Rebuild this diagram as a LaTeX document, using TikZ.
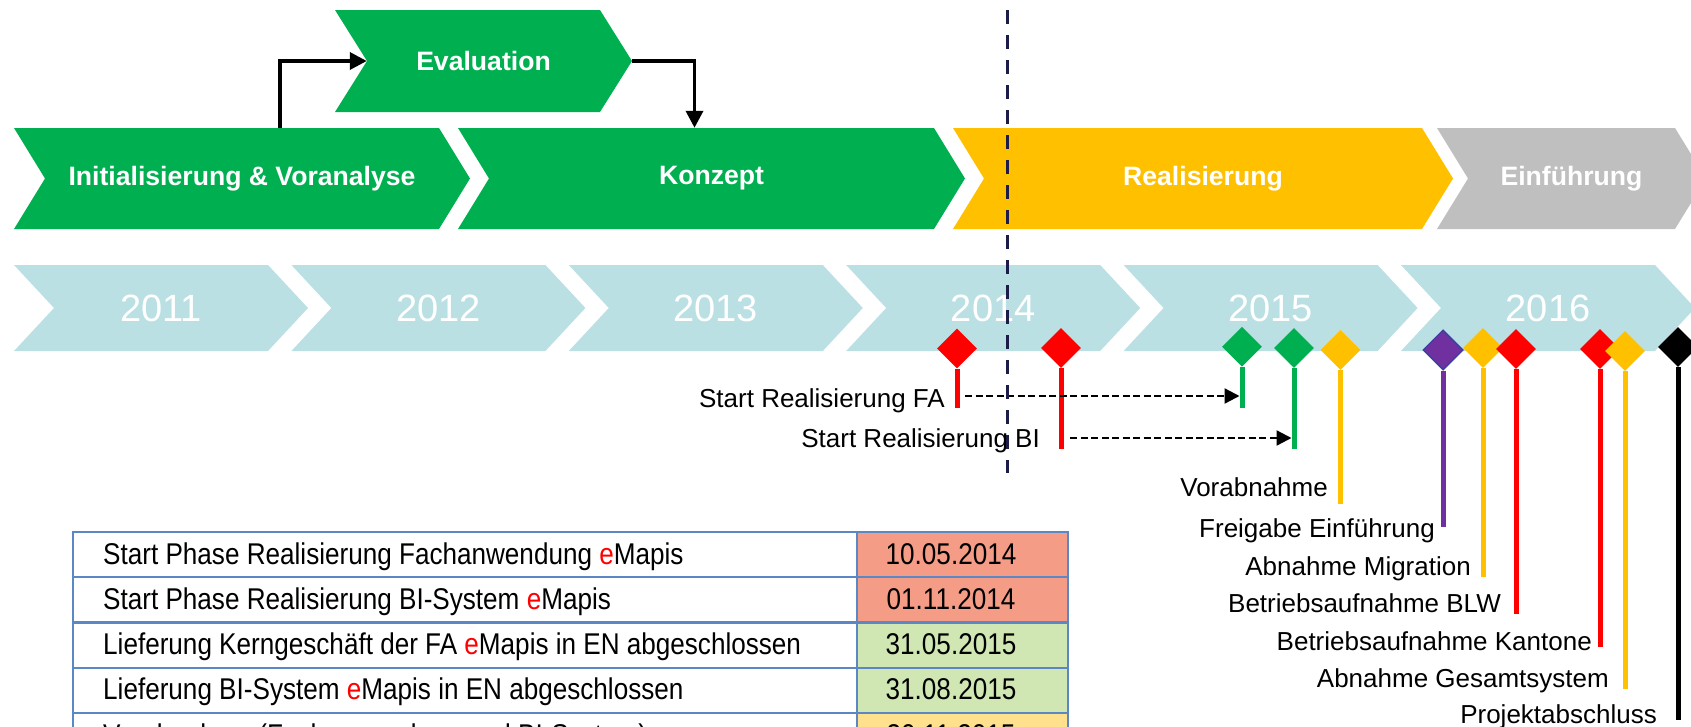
\documentclass[tikz,border=0pt]{standalone}
\usepackage{fontspec}
\setmainfont{Liberation Sans}
\newfontfamily\narrowfont[FakeStretch=0.87]{Liberation Sans}
\usetikzlibrary{arrows.meta,shapes.geometric,calc,positioning}

\definecolor{phgreen}{HTML}{00B050}
\definecolor{phgold}{HTML}{FFC000}
\definecolor{phgrey}{HTML}{BFBFBF}
\definecolor{yrblue}{HTML}{BBE0E3}
\definecolor{mspurple}{HTML}{7030A0}
\definecolor{msborder}{HTML}{3F3F9F}
\definecolor{cutnavy}{HTML}{1C1C48}
\definecolor{tabline}{HTML}{5B87C5}
\definecolor{cellred}{HTML}{F59C86}
\definecolor{cellgreen}{HTML}{D0E7B4}
\definecolor{cellyellow}{HTML}{FFE08C}

\def \phtop {128}
\def \phheight {101}
\def \phdepth {31}
\def \yrtop {265}
\def \yrheight {86}
\def \yrdepth {40}
\def \yrpitch {277.4}
\def \rowh {45.25}

% notch x, top y, body width, height, depth, colour
\newcommand{\chevshape}[6]{%
  \fill[#6] ({#1-#5},#2) -- ({#1+#3},#2) -- ({#1+#3+#5},{#2+#4/2})
    -- ({#1+#3},{#2+#4}) -- ({#1-#5},{#2+#4}) -- (#1,{#2+#4/2}) -- cycle;
}
% name, notch x, top y, body width, height, depth, colour, text
\newcommand{\phase}[8]{%
  \chevshape{#2}{#3}{#4}{#5}{#6}{#7}
  \node[phasetext, minimum width=#4, minimum height=#5] (#1) at ({#2+#4/2},{#3+#5/2}) {#8};
}
\newcommand{\emapis}{{\color{red}e}Mapis}

\begin{document}
\begin{tikzpicture}[x=1pt, y=-1pt,
  phasetext/.style={text=white, font=\fontsize{26.6}{30}\selectfont\bfseries, inner sep=0pt},
  yeartext/.style={text=white, font=\fontsize{38}{44}\selectfont, inner sep=0pt},
  msdiamond/.style={diamond, minimum width=40pt, minimum height=40pt, inner sep=0pt},
  stemline/.style={line width=5pt},
  mslabel/.style={font=\fontsize{26}{30}\selectfont, inner sep=0pt, anchor=base east},
  flow/.style={line width=3.5pt, -{Triangle[length=17pt,width=17pt]}},
  dflow/.style={line width=2.3pt, dash pattern=on 7pt off 3.5pt, -{Triangle[length=15pt,width=15pt]}},
  cutline/.style={cutnavy, line width=3pt, dash pattern=on 14pt off 11pt},
  tabtext/.style={font=\narrowfont\fontsize{30}{34}\selectfont, inner sep=0pt},
  tabrule/.style={tabline, line width=2pt}]
\useasboundingbox (0,0) rectangle (1691,726);
\clip (0,0) rectangle (1691,726);

% phases
\phase{eval}{367}{10}{233}{102}{32}{phgreen}{Evaluation}
\phase{init}{45}{\phtop}{394}{\phheight}{\phdepth}{phgreen}{Initialisierung \& Voranalyse}
\phase{konz}{489}{\phtop}{445}{\phheight}{\phdepth}{phgreen}{Konzept}
\phase{real}{984}{\phtop}{438}{\phheight}{\phdepth}{phgold}{Realisierung}
\phase{einf}{1468}{\phtop}{207}{\phheight}{\phdepth}{phgrey}{Einführung}
\draw[flow] ([xshift=38pt]init.north) |- (eval.west);
\draw[flow] ([xshift=32pt]eval.east) -| ([xshift=-17pt]konz.north);

% years
\foreach \yr [count=\i from 0] in {2011,...,2016}{
  \chevshape{54+\yrpitch*\i}{\yrtop}{214}{\yrheight}{\yrdepth}{yrblue}
  \node[yeartext] (y\yr) at ({54+\yrpitch*\i+107},{\yrtop+\yrheight/2}) {\yr};
}

% milestones
\node[msdiamond, fill=red] (m1) at (957,348.5) {};
\node[msdiamond, fill=red] (m2) at (1061,348) {};
\node[msdiamond, fill=phgreen] (m3) at (1242,346.7) {};
\node[msdiamond, fill=phgreen] (m4) at (1294,348) {};
\node[msdiamond, fill=phgold] (m5) at (1340.5,350) {};
\node[msdiamond, fill=mspurple, draw=msborder, line width=1.5pt] (m6) at (1443,350) {};
\node[msdiamond, fill=phgold] (m7) at (1483,348) {};
\node[msdiamond, fill=red] (m8) at (1516,349) {};
\node[msdiamond, fill=red] (m9) at (1600,349) {};
\node[msdiamond, fill=phgold] (m10) at (1625,351) {};
\node[msdiamond, fill=black] (m11) at (1678,347) {};
\foreach \m/\c/\b in {m1/red/408, m2/red/449, m3/phgreen/408, m4/phgreen/449,
    m5/phgold/504, m6/mspurple/527, m7/phgold/577, m8/red/614,
    m9/red/647, m10/phgold/689, m11/black/720}
  \draw[stemline, \c] (\m.south) -- (\m.south |- 0,\b) coordinate (\m-end);

\node[mslabel] (l1) at (945,407) {Start Realisierung FA};
\node[mslabel] (l2) at (1040,447) {Start Realisierung BI};
\node[mslabel] (l5) at (1328,496) {Vorabnahme};
\node[mslabel] (l6) at (1435,537) {Freigabe Einführung};
\node[mslabel] (l7) at (1471,575) {Abnahme Migration};
\node[mslabel] (l8) at (1501,612) {Betriebsaufnahme BLW};
\node[mslabel] (l9) at (1592,650) {Betriebsaufnahme Kantone};
\node[mslabel] (l10) at (1609,687) {Abnahme Gesamtsystem};
\node[mslabel] (l11) at (1657,723) {Projektabschluss};

\draw[dflow] ($(m1-end)+(8,-12)$) -- ($(m3-end |- m1-end)+(-2.5,-12)$);
\draw[dflow] ($(m2-end)+(9,-11)$) -- ($(m4-end |- m2-end)+(-2.5,-11)$);

% today
\coordinate (cuttop) at (1007,10);
\coordinate (cutbot) at (1007,473);
\draw[cutline] (cuttop) -- (cutbot);

% table
\foreach \r/\txt/\dt/\cc in {
    0/{Start Phase Realisierung Fachanwendung \emapis}/10.05.2014/cellred,
    1/{Start Phase Realisierung BI-System \emapis}/01.11.2014/cellred,
    2/{Lieferung Kerngeschäft der FA \emapis{} in EN abgeschlossen}/31.05.2015/cellgreen,
    3/{Lieferung BI-System \emapis{} in EN abgeschlossen}/31.08.2015/cellgreen,
    4/{Vorabnahme (Fachanwendung und BI-System)}/30.11.2015/cellyellow}{
  \fill[\cc] (857,{532+\rowh*\r}) rectangle (1068,{532+\rowh*(\r+1)});
  \node[tabtext, anchor=base west] (t\r) at (103,{564+\rowh*\r}) {\txt};
  \node[tabtext, anchor=base] (d\r) at (951,{564+\rowh*\r}) {\dt};
}
\foreach \r in {0,1,3,4}
  \draw[tabrule] (72,{532+\rowh*\r}) -- (1069,{532+\rowh*\r});
\draw[tabrule, line width=3.5pt] (72,{532+\rowh*2}) -- (1069,{532+\rowh*2});
\foreach \c in {73,857,1068}
  \draw[tabrule] (\c,531) -- (\c,760);
\end{tikzpicture}
\end{document}
